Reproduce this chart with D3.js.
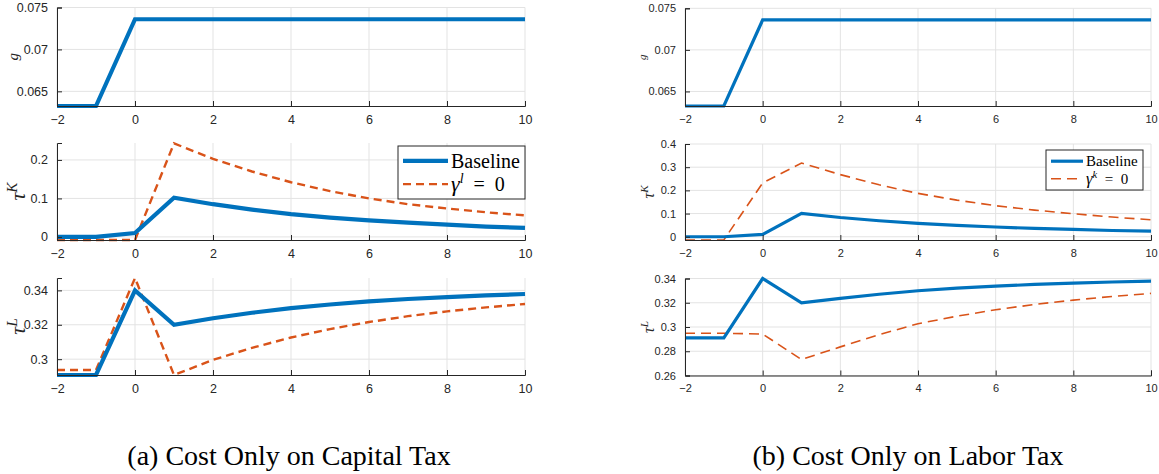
<!DOCTYPE html>
<html>
<head>
<meta charset="utf-8">
<script src="https://cdn.jsdelivr.net/npm/d3@7"></script>
<style>
  html, body { margin: 0; padding: 0; background: #fff; }
  svg { display: block; }
</style>
</head>
<body>
<svg id="fig" width="1159" height="474"></svg>
<script>
// Transition paths, periods -2 .. 10
const periods = [-2, -1, 0, 1, 2, 3, 4, 5, 6, 7, 8, 9, 10];
const xTicks = [-2, 0, 2, 4, 6, 8, 10];

// Government spending path (same in both experiments)
const gPath = [0.06325, 0.06325, 0.0736, 0.0736, 0.0736, 0.0736, 0.0736, 0.0736, 0.0736, 0.0736, 0.0736, 0.0736, 0.0736];

// (a) Cost only on capital tax
const tauKBaseA = [0, 0, 0.010, 0.102, 0.085, 0.071, 0.059, 0.050, 0.043, 0.037, 0.032, 0.027, 0.0235];
const tauKNoCostA = [-0.008, -0.008, -0.008, 0.243, 0.203, 0.170, 0.142, 0.119, 0.100, 0.085, 0.074, 0.064, 0.056];
const tauLBaseA = [0.2908, 0.2908, 0.340, 0.320, 0.3238, 0.3270, 0.3297, 0.3318, 0.3336, 0.3350, 0.3361, 0.3371, 0.3379];
const tauLNoCostA = [0.2937, 0.2937, 0.3472, 0.2908, 0.2996, 0.3066, 0.3126, 0.3175, 0.3216, 0.3250, 0.3278, 0.3301, 0.3321];

// (b) Cost only on labor tax
const tauKBaseB = [0, 0, 0.010, 0.101, 0.083, 0.069, 0.058, 0.049, 0.042, 0.036, 0.032, 0.027, 0.024];
const tauKNoCostB = [-0.014, -0.014, 0.232, 0.318, 0.268, 0.224, 0.187, 0.158, 0.134, 0.115, 0.099, 0.085, 0.073];
const tauLBaseB = [0.291, 0.291, 0.340, 0.320, 0.3236, 0.3270, 0.3299, 0.3320, 0.3337, 0.3351, 0.3362, 0.3371, 0.3378];
const tauLNoCostB = [0.2948, 0.2948, 0.2942, 0.2732, 0.2836, 0.2937, 0.3027, 0.3089, 0.3142, 0.3186, 0.3222, 0.3252, 0.3277];

// Y-axis ticks and limits per row
const gTicks = [0.065, 0.07, 0.075];
const gLimits = [0.06325, 0.075];
const tauKTicksA = [0, 0.1, 0.2];
const tauKLimitsA = [-0.008, 0.244];
const tauLTicksA = [0.30, 0.32, 0.34];
const tauLLimitsA = [0.2908, 0.3472];
const tauKTicksB = [0, 0.1, 0.2, 0.3, 0.4];
const tauKLimitsB = [-0.014, 0.4];
const tauLTicksB = [0.26, 0.28, 0.30, 0.32, 0.34];
const tauLLimitsB = [0.26, 0.34];

const captions = ["(a) Cost Only on Capital Tax", "(b) Cost Only on Labor Tax"];
const legendLabels = ["Baseline", "=\u20020"];

const BLUE = "#0072BD";
const RED = "#D95319";
const AXIS = "#262626";
const GRID = "#e3e3e3";

const svg = d3.select("#fig");

const fmt = v => d3.format(".3~f")(v);

function panel(cfg) {
  const x = d3.scaleLinear().domain([-2, 10]).range([cfg.x0, cfg.x1]);
  const y = d3.scaleLinear().domain(cfg.ylim).range([cfg.y1, cfg.y0]);
  const g = svg.append("g");

  // grid
  g.append("g").selectAll("line").data(xTicks).join("line")
    .attr("x1", d => x(d)).attr("x2", d => x(d))
    .attr("y1", cfg.y0).attr("y2", cfg.y1)
    .attr("stroke", GRID).attr("stroke-width", 1);
  g.append("g").selectAll("line").data(cfg.yticks).join("line")
    .attr("x1", cfg.x0).attr("x2", cfg.x1)
    .attr("y1", d => y(d)).attr("y2", d => y(d))
    .attr("stroke", GRID).attr("stroke-width", 1);

  // axes (ticks inward)
  const xAxis = d3.axisBottom(x).tickValues(xTicks).tickSize(-cfg.tick).tickPadding(cfg.tick + 4)
    .tickFormat(d3.format("d"));
  const yAxis = d3.axisLeft(y).tickValues(cfg.yticks).tickSize(-cfg.tick).tickPadding(cfg.tick + 4)
    .tickFormat(fmt);

  const line = d3.line().x((d, i) => x(periods[i])).y(d => y(d));

  // series
  if (cfg.dashed) {
    g.append("path").datum(cfg.dashed).attr("d", line)
      .attr("fill", "none").attr("stroke", RED).attr("stroke-width", cfg.dashW)
      .attr("stroke-dasharray", cfg.dash).attr("stroke-linejoin", "miter");
  }
  g.append("path").datum(cfg.solid).attr("d", line)
    .attr("fill", "none").attr("stroke", BLUE).attr("stroke-width", cfg.solidW)
    .attr("stroke-linejoin", "miter");

  const xa = g.append("g").attr("transform", `translate(0,${cfg.y1})`).call(xAxis);
  const ya = g.append("g").attr("transform", `translate(${cfg.x0},0)`).call(yAxis);
  [xa, ya].forEach(a => {
    a.select(".domain").attr("stroke", AXIS).attr("stroke-width", 1);
    a.selectAll(".tick line").attr("stroke", AXIS);
    a.selectAll(".tick text").attr("fill", AXIS)
      .style("font-family", "'Liberation Sans', Arial, sans-serif")
      .style("font-size", cfg.fs + "px");
  });

  // y label
  const lab = g.append("text")
    .attr("transform", `translate(${cfg.labX},${(cfg.y0 + cfg.y1) / 2}) rotate(-90)`)
    .attr("text-anchor", "middle")
    .style("font-family", "'Liberation Serif', 'DejaVu Serif', serif")
    .style("font-style", "italic")
    .style("font-size", cfg.labFs + "px")
    .attr("fill", AXIS);
  lab.append("tspan").text(cfg.label);
  if (cfg.sup) {
    lab.append("tspan").attr("baseline-shift", "super")
      .style("font-size", (cfg.labFs * 0.7) + "px").text(cfg.sup);
  }

  // legend
  if (cfg.legend) {
    const L = cfg.legend;
    const lg = g.append("g");
    lg.append("rect").attr("x", L.x0).attr("y", L.y0)
      .attr("width", L.x1 - L.x0).attr("height", L.y1 - L.y0)
      .attr("fill", "#fff").attr("stroke", AXIS).attr("stroke-width", 1);
    const rowY = [L.y0 + (L.y1 - L.y0) * 0.28, L.y0 + (L.y1 - L.y0) * 0.72];
    lg.append("line").attr("x1", L.s0).attr("x2", L.s1).attr("y1", rowY[0]).attr("y2", rowY[0])
      .attr("stroke", BLUE).attr("stroke-width", cfg.solidW);
    lg.append("line").attr("x1", L.s0).attr("x2", L.s1).attr("y1", rowY[1]).attr("y2", rowY[1])
      .attr("stroke", RED).attr("stroke-width", cfg.dashW).attr("stroke-dasharray", cfg.dash);
    const tfont = "'Liberation Serif', 'DejaVu Serif', serif";
    lg.append("text").attr("x", L.s1 + 3).attr("y", rowY[0]).attr("dy", "0.35em")
      .style("font-family", tfont).style("font-size", L.fs + "px").attr("fill", "#000")
      .text(legendLabels[0]);
    const t2 = lg.append("text").attr("x", L.s1 + 3).attr("y", rowY[1]).attr("dy", "0.35em")
      .style("font-family", tfont).style("font-size", L.fs + "px").attr("fill", "#000");
    t2.append("tspan").style("font-style", "italic").style("font-size", (L.fs * 1.1) + "px").text("γ");
    t2.append("tspan").attr("dy", -L.fs * 0.42).style("font-style", "italic")
      .style("font-size", (L.fs * 0.7) + "px").text(L.sup);
    t2.append("tspan").attr("dy", L.fs * 0.42).text("\u2002" + legendLabels[1]);
  }
}

// ---- column (a) ----
const colA = { x0: 57, x1: 525, tick: 5, fs: 12.5, solidW: 4.2, dashW: 2.4, dash: "8,5", labX: 20 };
panel(Object.assign({}, colA, { y0: 7.5, y1: 106, ylim: gLimits, yticks: gTicks, solid: gPath, label: "g", labFs: 15, labX: 18 }));
panel(Object.assign({}, colA, { y0: 143, y1: 240, ylim: tauKLimitsA, yticks: tauKTicksA,
  solid: tauKBaseA, dashed: tauKNoCostA, label: "τ", sup: "K", labFs: 22, labX: 25,
  legend: { x0: 398, x1: 525, y0: 146, y1: 199, s0: 403, s1: 448, fs: 20, sup: "l" } }));
panel(Object.assign({}, colA, { y0: 278, y1: 375, ylim: tauLLimitsA, yticks: tauLTicksA,
  solid: tauLBaseA, dashed: tauLNoCostA, label: "τ", sup: "L", labFs: 22, labX: 25 }));

// ---- column (b) ----
const colB = { x0: 685, x1: 1151, tick: 5, fs: 11, solidW: 3.2, dashW: 1.6, dash: "10,6", labX: 650 };
panel(Object.assign({}, colB, { y0: 8.3, y1: 106, ylim: gLimits, yticks: gTicks, solid: gPath, label: "g", labFs: 11, labX: 646 }));
panel(Object.assign({}, colB, { y0: 144, y1: 240, ylim: tauKLimitsB, yticks: tauKTicksB,
  solid: tauKBaseB, dashed: tauKNoCostB, label: "τ", sup: "K", labFs: 16, labX: 654,
  legend: { x0: 1046, x1: 1143, y0: 150, y1: 190, s0: 1051, s1: 1083, fs: 15, sup: "k" } }));
panel(Object.assign({}, colB, { y0: 278.5, y1: 375.5, ylim: tauLLimitsB, yticks: tauLTicksB,
  solid: tauLBaseB, dashed: tauLNoCostB, label: "τ", sup: "L", labFs: 16, labX: 654 }));

// captions
svg.selectAll("text.caption").data(captions).join("text")
  .attr("class", "caption")
  .attr("x", (d, i) => [289, 908][i]).attr("y", 465)
  .attr("text-anchor", "middle")
  .style("font-family", "'Liberation Serif', 'DejaVu Serif', serif")
  .style("font-size", "28px")
  .attr("fill", "#000")
  .text(d => d);
</script>
</body>
</html>
